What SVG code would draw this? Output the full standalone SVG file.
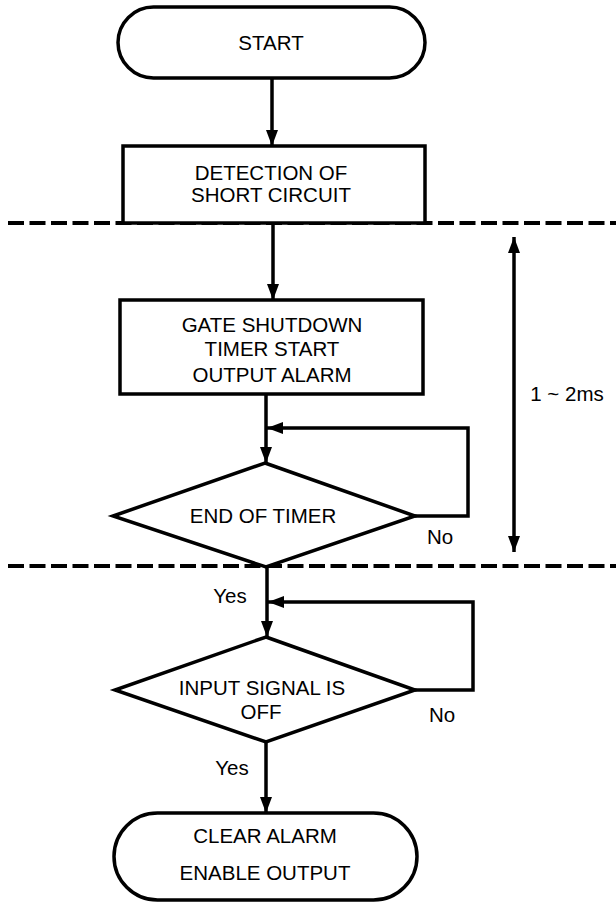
<svg xmlns="http://www.w3.org/2000/svg" width="616" height="905" viewBox="0 0 616 905">
<style>
.shape{fill:#fff;stroke:#000;stroke-width:3.5;stroke-linejoin:miter}
.line{fill:none;stroke:#000;stroke-width:3.5}
.dash{fill:none;stroke:#000;stroke-width:4;stroke-dasharray:16 5.5}
text{font-family:"Liberation Sans",Arial,sans-serif;font-size:20.5px;fill:#000;text-anchor:middle}
</style>
<defs>
<marker id="ah" viewBox="0 0 16 12" refX="16" refY="6" markerUnits="userSpaceOnUse" markerWidth="16" markerHeight="12" orient="auto-start-reverse">
<path d="M0,0 L16,6 L0,12 Z" fill="#000"/>
</marker>
</defs>
<g id="separators">
<line class="dash" x1="8" y1="223" x2="616" y2="223"/>
<line class="dash" x1="8" y1="566" x2="616" y2="566"/>
</g>
<g id="start">
<rect class="shape" x="118" y="7" width="307" height="71" rx="35.5"/>
<text x="271" y="50">START</text>
</g>
<g id="detect">
<rect class="shape" x="123" y="146" width="302" height="77"/>
<text x="271" y="180">DETECTION OF</text>
<text x="271" y="202">SHORT CIRCUIT</text>
</g>
<g id="gate">
<rect class="shape" x="120" y="300" width="303" height="94"/>
<text x="272" y="332">GATE SHUTDOWN</text>
<text x="272" y="356">TIMER START</text>
<text x="272" y="382">OUTPUT ALARM</text>
</g>
<g id="timer">
<polygon class="shape" points="265,463 415,516 266,567 113,516"/>
<text x="263" y="523">END OF TIMER</text>
</g>
<g id="input">
<polygon class="shape" points="266,637 415,690 266,742 115,690"/>
<text x="262" y="695">INPUT SIGNAL IS</text>
<text x="261" y="719">OFF</text>
</g>
<g id="end">
<rect class="shape" x="114" y="813" width="303" height="87" rx="43.5"/>
<text x="265" y="843">CLEAR ALARM</text>
<text x="265" y="880">ENABLE OUTPUT</text>
</g>
<g id="connectors">
<line class="line" x1="272" y1="78" x2="272" y2="146" marker-end="url(#ah)"/>
<line class="line" x1="273" y1="223" x2="273" y2="300" marker-end="url(#ah)"/>
<line class="line" x1="266" y1="394" x2="266" y2="463" marker-end="url(#ah)"/>
<polyline class="line" points="415,516 468,516 468,428 267,428" marker-end="url(#ah)"/>
<line class="line" x1="267" y1="567" x2="267" y2="637" marker-end="url(#ah)"/>
<polyline class="line" points="415,690 473,690 473,602 268,602" marker-end="url(#ah)"/>
<line class="line" x1="266" y1="742" x2="266" y2="813" marker-end="url(#ah)"/>
<line class="line" x1="514" y1="237" x2="514" y2="552" marker-start="url(#ah)" marker-end="url(#ah)"/>
</g>
<g id="labels">
<text x="440" y="544">No</text>
<text x="567" y="401">1 ~ 2ms</text>
<text x="230" y="603">Yes</text>
<text x="442" y="722">No</text>
<text x="232" y="775">Yes</text>
</g>
</svg>
